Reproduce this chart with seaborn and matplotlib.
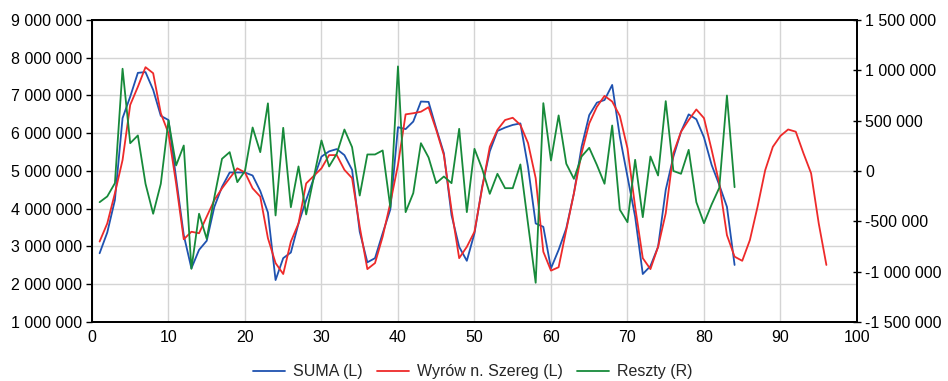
import numpy as np
import pandas as pd
import matplotlib
matplotlib.use("Agg")
import matplotlib.pyplot as plt
from matplotlib.ticker import FuncFormatter, MultipleLocator
import seaborn as sns

# Observed series (left axis)
suma = [2.82, 3.37, 4.23, 6.40, 6.97, 7.60, 7.62, 7.15, 6.46, 6.35,
        4.81, 3.30, 2.42, 2.91, 3.15, 4.05, 4.58, 4.96, 4.96, 4.96,
        4.88, 4.47, 3.90, 2.11, 2.69, 2.84, 3.61, 4.23, 4.81, 5.38,
        5.52, 5.58, 5.42, 5.03, 3.39, 2.58, 2.69, 3.35, 3.98, 6.16,
        6.11, 6.31, 6.84, 6.83, 6.13, 5.47, 3.83, 2.99, 2.62, 3.35,
        4.58, 5.52, 6.06, 6.15, 6.22, 6.26, 5.11, 3.61, 3.52, 2.42,
        2.91, 3.48, 4.41, 5.64, 6.48, 6.81, 6.88, 7.28, 5.91, 4.85,
        3.79, 2.27, 2.48, 2.99, 4.50, 5.38, 6.04, 6.50, 6.37, 5.89,
        5.16, 4.63, 4.05, 2.51]

# Smoothed series incl. forecast (left axis)
wyrownany = [3.13, 3.61, 4.41, 5.29, 6.75, 7.23, 7.75, 7.59, 6.53, 6.00,
             4.67, 3.19, 3.39, 3.35, 3.79, 4.23, 4.54, 4.81, 5.07, 4.96,
             4.54, 4.32, 3.22, 2.56, 2.27, 3.13, 3.61, 4.67, 4.87, 5.07,
             5.42, 5.42, 5.03, 4.81, 3.52, 2.40, 2.56, 3.26, 4.15, 5.16,
             6.50, 6.53, 6.57, 6.69, 6.09, 5.42, 3.97, 2.69, 2.99, 3.39,
             4.54, 5.64, 6.09, 6.35, 6.41, 6.22, 5.74, 4.81, 2.86, 2.36,
             2.45, 3.44, 4.41, 5.47, 6.26, 6.70, 6.99, 6.84, 6.46, 5.60,
             4.05, 2.69, 2.40, 2.99, 3.88, 5.47, 6.04, 6.35, 6.63, 6.40,
             5.56, 4.67, 3.30, 2.73, 2.62, 3.17, 4.05, 5.02, 5.64, 5.93,
             6.10, 6.04, 5.47, 4.94, 3.61, 2.51]

# Residuals, thousands (right axis)
reszty = [-310, -253, -121, 1016, 276, 353, -127, -425, -127, 502,
          55, 253, -972, -425, -674, -260, 121, 187, -111, 0,
          432, 187, 672, -442, 429, -360, 45, -432, -62, 303,
          45, 171, 412, 237, -244, 164, 164, 204, -360, 1039,
          -409, -220, 276, 134, -121, -55, -121, 419, -409, 220,
          22, -227, -28, -171, -171, 65, -525, -1111, 674, 104,
          552, 72, -78, 144, 230, 60, -127, 452, -385, -509,
          111, -459, 144, -45, 694, 0, -28, 210, -310, -519,
          -333, -167, 750, -161]

labels = ["SUMA (L)", "Wyrów n. Szereg (L)", "Reszty (R)"]
colors = ["#1f52b0", "#ee2a2a", "#178a3a"]

df_l1 = pd.DataFrame({"t": np.arange(1, len(suma) + 1), "v": np.array(suma) * 1e6})
df_l2 = pd.DataFrame({"t": np.arange(1, len(wyrownany) + 1), "v": np.array(wyrownany) * 1e6})
df_r = pd.DataFrame({"t": np.arange(1, len(reszty) + 1), "v": np.array(reszty) * 1e3})

sns.set_style("white")
plt.rcParams["font.family"] = ["Liberation Sans", "DejaVu Sans"]
plt.rcParams["font.size"] = 11.5

fig = plt.figure(figsize=(9.48, 3.81), dpi=100)
ax = fig.add_axes([0.097, 0.155, 0.807, 0.7925])
ax2 = ax.twinx()

sns.lineplot(data=df_l1, x="t", y="v", ax=ax, color=colors[0], lw=1.3)
sns.lineplot(data=df_l2, x="t", y="v", ax=ax, color=colors[1], lw=1.3)
sns.lineplot(data=df_r, x="t", y="v", ax=ax2, color=colors[2], lw=1.3)

ax.set_xlim(0, 100)
ax.set_ylim(1e6, 9e6)
ax2.set_ylim(-1.5e6, 1.5e6)
ax.xaxis.set_major_locator(MultipleLocator(10))
ax.yaxis.set_major_locator(MultipleLocator(1e6))
ax2.yaxis.set_major_locator(MultipleLocator(5e5))

fmt = FuncFormatter(lambda v, p: f"{int(round(v)):,}".replace(",", " "))
ax.yaxis.set_major_formatter(fmt)
ax2.yaxis.set_major_formatter(fmt)

for a in (ax, ax2):
    a.set_xlabel("")
    a.set_ylabel("")
    for s in a.spines.values():
        s.set_color("black")
        s.set_linewidth(1.3)

ax.grid(True, color="#d4d4d4", lw=1.0)
ax.set_axisbelow(True)
ax2.grid(False)

ax.tick_params(axis="both", direction="inout", length=6, width=1.0, colors="black", labelsize=11.5, pad=3)
ax.tick_params(axis="y", direction="out", length=4)
ax2.tick_params(axis="y", direction="inout", length=6, width=1.0, colors="black", labelsize=11.5, pad=3)

handles = [plt.Line2D([], [], color=c, lw=1.3) for c in colors]
fig.legend(handles, labels, loc="center", bbox_to_anchor=(0.499, 0.024), ncol=3,
           frameon=False, fontsize=11.5, handlelength=2.0, handletextpad=0.5,
           columnspacing=0.9)

fig.savefig("out.png", dpi=100)
